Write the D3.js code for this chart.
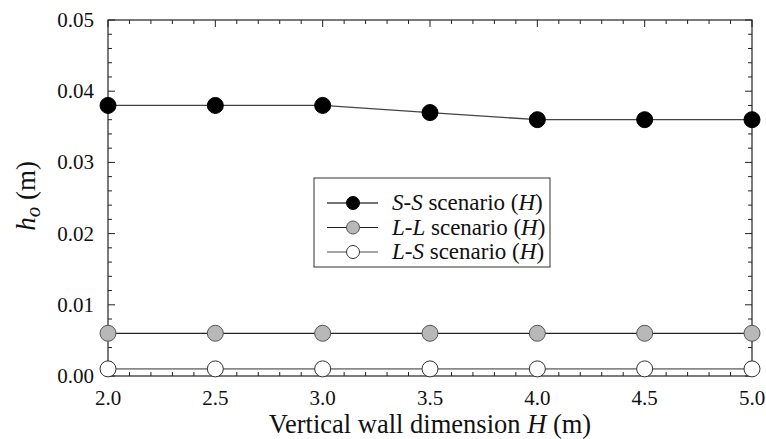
<!DOCTYPE html>
<html>
<head>
<meta charset="utf-8">
<script src="https://cdn.jsdelivr.net/npm/d3@7"></script>
<style>
  body { margin: 0; background: #fff; }
  svg { display: block; }
</style>
</head>
<body>
<div id="chart"></div>
<script>
// values
var wallH = [2.0, 2.5, 3.0, 3.5, 4.0, 4.5, 5.0];
var ssVals = [0.038, 0.038, 0.038, 0.037, 0.036, 0.036, 0.036];
var llVals = [0.006, 0.006, 0.006, 0.006, 0.006, 0.006, 0.006];
var lsVals = [0.001, 0.001, 0.001, 0.001, 0.001, 0.001, 0.001];
var xTicks = [2.0, 2.5, 3.0, 3.5, 4.0, 4.5, 5.0];
var yTicks = [0.00, 0.01, 0.02, 0.03, 0.04, 0.05];
var seriesNames = ["S-S", "L-L", "L-S"];

var width = 766, height = 439;
var plotL = 108, plotR = 752, plotT = 20, plotB = 376;
var serif = "Liberation Serif, Tinos, DejaVu Serif, serif";

var svg = d3.select("#chart").append("svg")
    .attr("width", width)
    .attr("height", height)
    .style("font-family", serif);

var x = d3.scaleLinear().domain([2.0, 5.0]).range([plotL, plotR]);
var y = d3.scaleLinear().domain([0, 0.05]).range([plotB, plotT]);

// frame
svg.append("rect")
    .attr("x", plotL).attr("y", plotT)
    .attr("width", plotR - plotL).attr("height", plotB - plotT)
    .attr("fill", "none").attr("stroke", "#222").attr("stroke-width", 1.2);

// inward ticks on all four sides
var xMinor = d3.range(0, 31).map(function (i) { return 2.0 + i * 0.1; });
var yMinor = d3.range(0, 26).map(function (i) { return i * 0.002; });
var tickG = svg.append("g").attr("stroke", "#222").attr("stroke-width", 1);

xMinor.forEach(function (v, i) {
    var len = (i % 5 === 0) ? 7 : 4;
    tickG.append("line").attr("x1", x(v)).attr("x2", x(v)).attr("y1", plotB).attr("y2", plotB - len);
    tickG.append("line").attr("x1", x(v)).attr("x2", x(v)).attr("y1", plotT).attr("y2", plotT + len);
});
yMinor.forEach(function (v, i) {
    var len = (i % 5 === 0) ? 7 : 4;
    tickG.append("line").attr("y1", y(v)).attr("y2", y(v)).attr("x1", plotL).attr("x2", plotL + len);
    tickG.append("line").attr("y1", y(v)).attr("y2", y(v)).attr("x1", plotR).attr("x2", plotR - len);
});

// tick labels
svg.append("g").selectAll("text")
    .data(xTicks).enter().append("text")
    .attr("x", function (d) { return x(d); })
    .attr("y", 405)
    .attr("text-anchor", "middle")
    .attr("font-size", 21)
    .attr("fill", "#111")
    .text(function (d) { return d.toFixed(1); });

svg.append("g").selectAll("text")
    .data(yTicks).enter().append("text")
    .attr("x", plotL - 14)
    .attr("y", function (d) { return y(d) + 7; })
    .attr("text-anchor", "end")
    .attr("font-size", 21)
    .attr("fill", "#111")
    .text(function (d) { return d.toFixed(2); });

// axis titles
var xt = svg.append("text")
    .attr("x", (plotL + plotR) / 2)
    .attr("y", 433)
    .attr("text-anchor", "middle")
    .attr("font-size", 26.5)
    .attr("fill", "#111");
xt.append("tspan").text("Vertical wall dimension ");
xt.append("tspan").attr("font-style", "italic").text("H");
xt.append("tspan").text(" (m)");

var yt = svg.append("text")
    .attr("transform", "translate(35,196) rotate(-90)")
    .attr("text-anchor", "middle")
    .attr("font-size", 27)
    .attr("fill", "#111");
yt.append("tspan").attr("font-style", "italic").text("h");
yt.append("tspan").attr("font-style", "italic").attr("font-size", 21).attr("dy", 5).text("o");
yt.append("tspan").attr("dy", -5).text(" (m)");

// series
var series = [
    { name: seriesNames[0], vals: ssVals, fill: "#000", stroke: "#000", line: "#444", lw: 1.3 },
    { name: seriesNames[1], vals: llVals, fill: "#b8b8b8", stroke: "#555", line: "#222", lw: 1.2 },
    { name: seriesNames[2], vals: lsVals, fill: "#fff", stroke: "#333", line: "#888", lw: 1.6 }
];

var line = d3.line()
    .x(function (d) { return x(d[0]); })
    .y(function (d) { return y(d[1]); });

series.forEach(function (s) {
    var pts = d3.zip(wallH, s.vals);
    svg.append("path")
        .datum(pts)
        .attr("d", line)
        .attr("fill", "none")
        .attr("stroke", s.line)
        .attr("stroke-width", s.lw);
    svg.append("g").selectAll("circle")
        .data(pts).enter().append("circle")
        .attr("cx", function (d) { return x(d[0]); })
        .attr("cy", function (d) { return y(d[1]); })
        .attr("r", 8)
        .attr("fill", s.fill)
        .attr("stroke", s.stroke)
        .attr("stroke-width", 1);
});

// legend
var lg = svg.append("g");
lg.append("rect")
    .attr("x", 314).attr("y", 178)
    .attr("width", 236).attr("height", 89)
    .attr("fill", "#fff").attr("stroke", "#333").attr("stroke-width", 1);

series.forEach(function (s, i) {
    var cy = 203 + i * 24.5;
    lg.append("line")
        .attr("x1", 327).attr("x2", 378)
        .attr("y1", cy).attr("y2", cy)
        .attr("stroke", s.line).attr("stroke-width", s.lw);
    lg.append("circle")
        .attr("cx", 353).attr("cy", cy).attr("r", 6.5)
        .attr("fill", s.fill).attr("stroke", s.stroke);
    var t = lg.append("text")
        .attr("x", 392).attr("y", cy + 7)
        .attr("font-size", 23)
        .attr("fill", "#111");
    t.append("tspan").attr("font-style", "italic").text(s.name);
    t.append("tspan").text(" scenario (");
    t.append("tspan").attr("font-style", "italic").text("H");
    t.append("tspan").text(")");
});
</script>
</body>
</html>
